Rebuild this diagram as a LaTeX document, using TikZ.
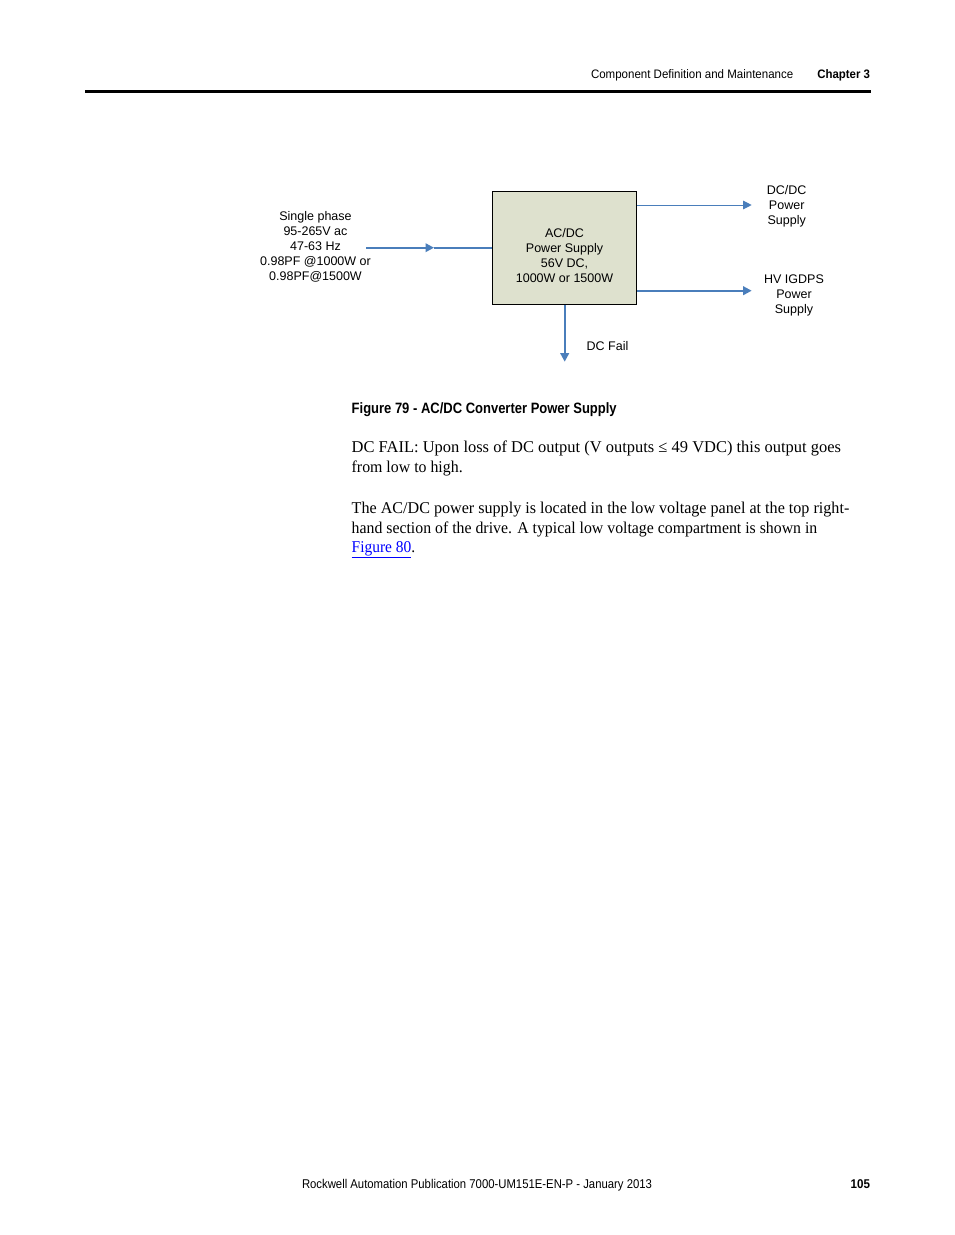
\documentclass[tikz,border=0pt]{standalone}
\usepackage{fontspec}
\setmainfont{Liberation Serif}
\newfontfamily\arial{Liberation Sans}
\usepackage{graphicx}
\usetikzlibrary{arrows.meta}
\definecolor{arrowblue}{RGB}{74,126,187}
\definecolor{boxfill}{RGB}{222,225,206}
\definecolor{linkblue}{RGB}{0,0,255}
\newcommand\fitw[2]{\resizebox{#1pt}{\height}{#2}}
\begin{document}
\begin{tikzpicture}[x=1pt,y=-1pt,
  txt/.style={inner sep=0pt, outer sep=0pt},
  lab/.style={inner sep=0pt, outer sep=0pt, anchor=base, font=\arial\fontsize{12.5}{15}\selectfont},
  body/.style={txt, anchor=base west, font=\fontsize{16.5}{20}\selectfont},
  flow/.style={draw=arrowblue, line width=2pt},
  thinflow/.style={draw=arrowblue, line width=1pt},
  tipped/.style={-{Triangle[length=8.5pt,width=8.5pt]}},
  psbox/.style={draw=black, line width=1pt, fill=boxfill, minimum width=144pt, minimum height=113.3pt, inner sep=0pt}
]
\useasboundingbox (0,0) rectangle (954,1235);
\fill[white] (0,0) rectangle (954,1235);

% header
\node[txt, anchor=base west] (hdr) at (591,78.7) {\fitw{202.3}{\arial\fontsize{12.3}{14}\selectfont Component Definition and Maintenance}};
\node[txt, anchor=base east] (chap) at (870,78.7) {\fitw{52.7}{\arial\bfseries\fontsize{12.3}{14}\selectfont Chapter 3}};
\draw[line width=3.5pt] (85,91.3) -- (871,91.3);

% diagram
\node[psbox] (box) at (564.7,248.3) {};
\node[lab] (boxtxt) at (564.5,237) {\begin{tabular}[t]{@{}c@{}}AC/DC\\Power Supply\\56V DC,\\1000W or 1500W\end{tabular}};
\node[lab] (input) at (315.5,220.7) {\begin{tabular}[t]{@{}c@{}}Single phase\\95-265V ac\\47-63 Hz\\0.98PF @1000W or\\0.98PF@1500W\end{tabular}};
\node[lab] (dcdc) at (786.7,194) {\begin{tabular}[t]{@{}c@{}}DC/DC\\Power\\Supply\end{tabular}};
\node[lab] (hv) at (794,283.3) {\begin{tabular}[t]{@{}c@{}}HV IGDPS\\Power\\Supply\end{tabular}};
\node[lab] (fail) at (607.5,350.7) {DC Fail};

\coordinate (instart) at (366,247.7);
\coordinate (inmid) at (434,247.7);
\coordinate (dctip) at (751.7,205);
\coordinate (hvtip) at (751.7,290.7);
\coordinate (failtip) at (564.7,361.7);

\draw[flow, tipped] (instart) -- (inmid);
\draw[flow] (inmid) -- (box.west |- inmid);
\draw[thinflow, tipped] (box.east |- dctip) -- (dctip);
\draw[flow, tipped] (box.east |- hvtip) -- (hvtip);
\draw[flow, tipped] (box.south) -- (failtip);

% caption
\node[txt, anchor=base west] (cap) at (351.7,413.7) {\fitw{265}{\arial\bfseries\fontsize{15}{18}\selectfont Figure 79 - AC/DC Converter Power Supply}};

% body text
\node[body] (l1) at (351.7,452.3) {\fitw{489.3}{DC FAIL: Upon loss of DC output (V outputs ≤ 49 VDC) this output goes}};
\node[body] (l2) at (351.7,472.3) {\fitw{111}{from low to high.}};
\node[body] (l3) at (351.7,513) {\fitw{497.6}{The AC/DC power supply is located in the low voltage panel at the top right-}};
\node[body] (l4) at (351.7,533) {\fitw{465.6}{hand section of the drive. A typical low voltage compartment is shown in}};
\node[body] (l5) at (351.7,552.7) {\fitw{63.5}{\textcolor{linkblue}{\underline{Figure 80}}.}};

% footer
\node[txt, anchor=base west] (foot) at (302,1188) {\fitw{350}{\arial\fontsize{12.7}{15}\selectfont Rockwell Automation Publication 7000-UM151E-EN-P - January 2013}};
\node[txt, anchor=base east] (page) at (870,1188) {\fitw{19.3}{\arial\bfseries\fontsize{12.7}{15}\selectfont 105}};
\end{tikzpicture}
\end{document}
